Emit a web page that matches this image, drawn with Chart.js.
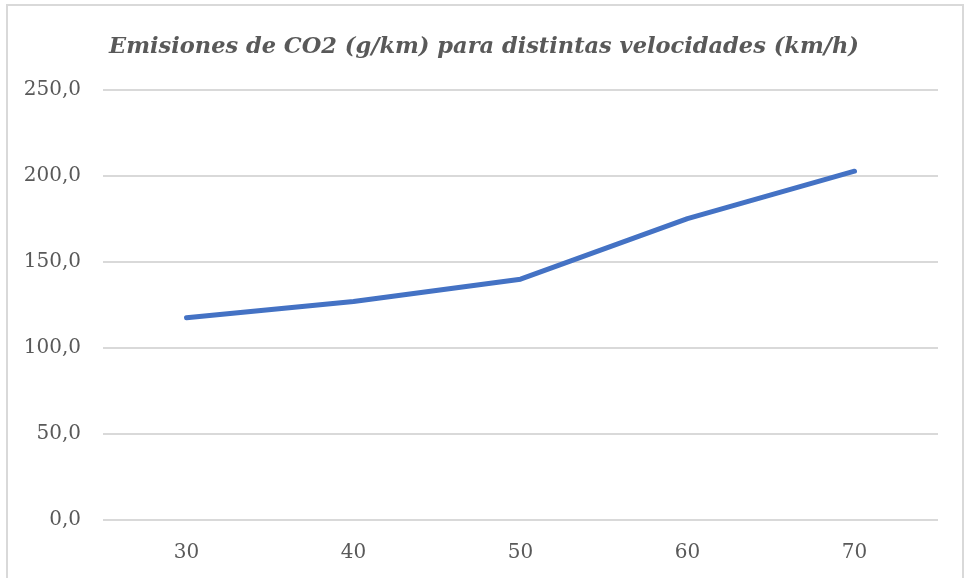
<!DOCTYPE html>
<html>
<head>
<meta charset="utf-8">
<script src="https://cdn.jsdelivr.net/npm/chart.js@4"></script>
<style>
  body { margin: 0; background: #fff; }
  #wrap { position: relative; width: 968px; height: 578px; overflow: hidden; }
  #frame { position: absolute; left: 6px; top: 4px; width: 958px; height: 600px; border: 2px solid #d9d9d9; box-sizing: border-box; }
  canvas { position: absolute; left: 0; top: 0; }
</style>
</head>
<body>
<div id="wrap">
  <div id="frame"></div>
  <canvas id="chart" width="968" height="578"></canvas>
</div>
<script>
// datos
const velocidades = ["30", "40", "50", "60", "70"];
const emisiones = [117.6, 127.0, 140.0, 175.2, 202.8];
const titulo = "Emisiones de CO2 (g/km) para distintas velocidades (km/h)";

const fontFam = "'DejaVu Serif', 'Liberation Serif', serif";

const ctx = document.getElementById("chart").getContext("2d");
const chart = new Chart(ctx, {
    type: "line",
    data: {
        labels: velocidades,
        datasets: [{
            data: emisiones,
            borderColor: "#4472c4",
            borderWidth: 5,
            borderCapStyle: "round",
            borderJoinStyle: "round",
            pointRadius: 0,
            fill: false,
            tension: 0
        }]
    },
    options: {
        responsive: false,
        animation: false,
        layout: { padding: 0 },
        plugins: {
            legend: { display: false },
            tooltip: { enabled: false },
            title: {
                display: true,
                text: titulo,
                color: "#595959",
                font: { family: fontFam, size: 22.5, style: "italic", weight: "bold", lineHeight: 1.2 },
                padding: { top: 34, bottom: 29 }
            }
        },
        scales: {
            x: {
                offset: true,
                grid: { display: false },
                border: { display: false },
                ticks: { color: "#595959", padding: 13, font: { family: fontFam, size: 20 } },
                afterFit: function (scale) { scale.height = 58; }
            },
            y: {
                min: 0,
                max: 250,
                ticks: {
                    stepSize: 50,
                    color: "#595959",
                    padding: 22,
                    font: { family: fontFam, size: 20 },
                    callback: function (v) { return v.toFixed(1).replace(".", ","); }
                },
                grid: { color: "#d9d9d9", lineWidth: 2, drawTicks: false },
                border: { display: false },
                afterFit: function (scale) { scale.width = 103; }
            },
            // eje vacío a la derecha, solo para dejar el margen
            margen: {
                type: "linear",
                position: "right",
                grid: { display: false },
                border: { display: false },
                ticks: { display: false },
                afterFit: function (scale) { scale.width = 30; }
            }
        }
    }
});
</script>
</body>
</html>
